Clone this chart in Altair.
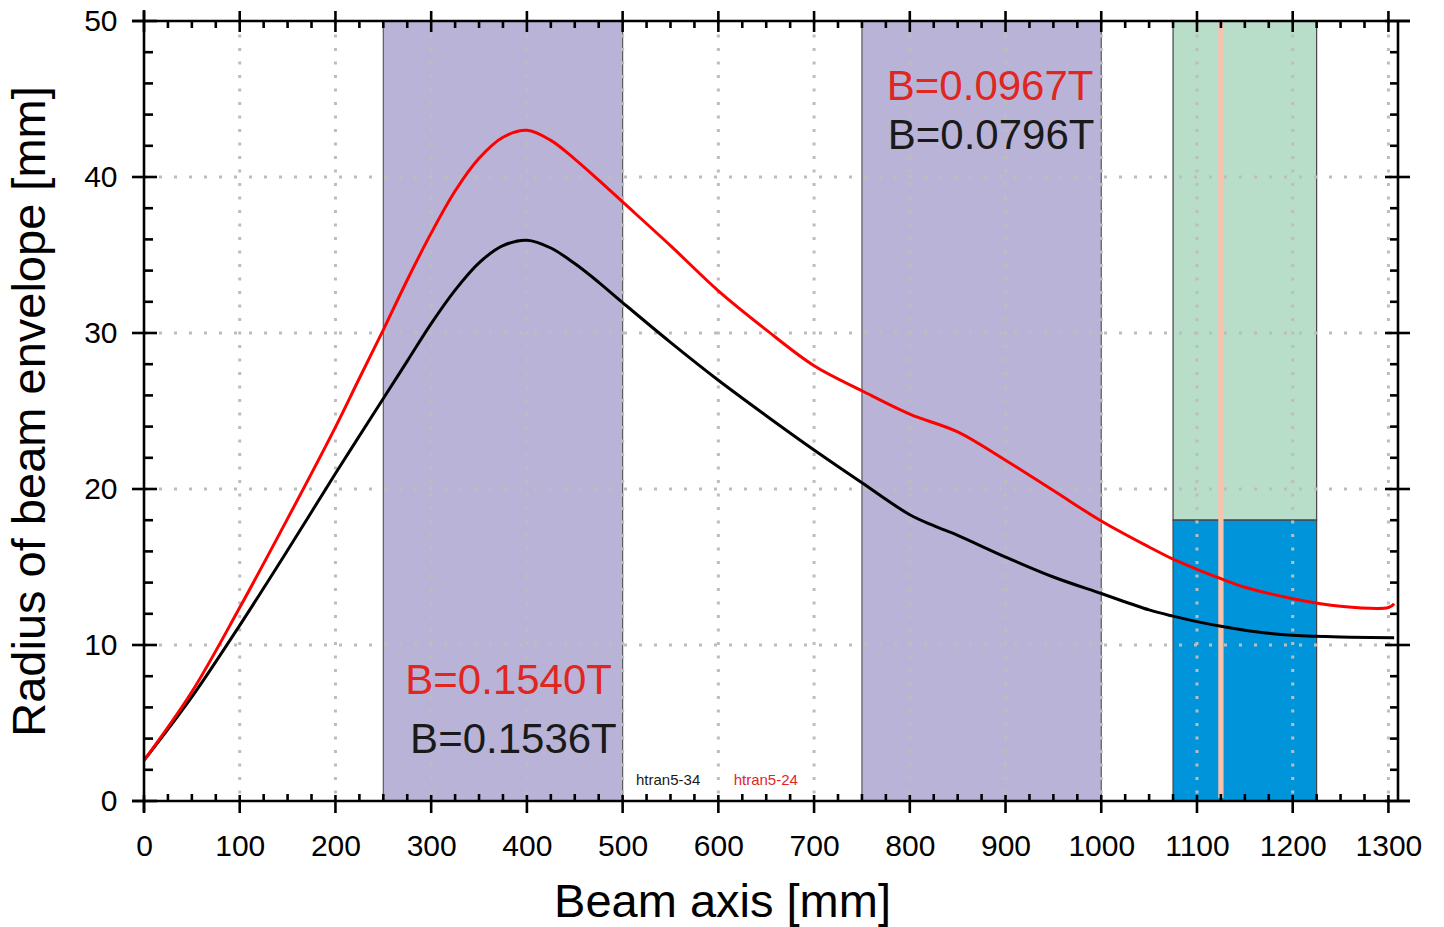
import altair as alt
import pandas as pd

# ---------------- data ----------------
x_black = [0, 50, 100, 150, 200, 250, 275, 300, 325, 350, 375, 400, 425, 450, 475, 500, 550,
           600, 650, 700, 750, 800, 825, 850, 900, 950, 1000, 1050, 1075, 1100, 1125, 1150,
           1175, 1200, 1250, 1306]
y_black = [2.6, 6.67, 11.26, 16.07, 20.99, 25.8, 28.2, 30.6, 32.75, 34.5, 35.6, 35.95, 35.45,
           34.45, 33.25, 31.95, 29.4, 26.97, 24.7, 22.5, 20.4, 18.35, 17.65, 17.03, 15.64,
           14.36, 13.3, 12.25, 11.85, 11.5, 11.2, 10.95, 10.75, 10.62, 10.51, 10.47]

x_red = [0, 50, 100, 150, 200, 225, 250, 275, 300, 325, 350, 375, 400, 425, 450, 475, 500,
         550, 600, 650, 700, 750, 800, 850, 900, 950, 1000, 1050, 1075, 1100, 1125, 1150,
         1200, 1250, 1300, 1306]
y_red = [2.6, 7.0, 12.4, 18.1, 23.97, 27.1, 30.2, 33.4, 36.4, 39.1, 41.2, 42.55, 43.0, 42.35,
         41.15, 39.8, 38.4, 35.6, 32.7, 30.2, 27.9, 26.3, 24.8, 23.66, 21.84, 19.9, 17.95,
         16.28, 15.5, 14.85, 14.25, 13.7, 12.97, 12.48, 12.4, 12.65]

magnet_start = [250, 750]
magnet_end = [500, 1000]
target_start = [1075]
target_end = [1225]
target_split = [18]
window_pos = [1125]

x_major = list(range(0, 1301, 100))
x_minor = [v for v in range(0, 1301, 25) if v % 100 != 0]
y_major = list(range(0, 51, 10))
y_minor = [v for v in range(0, 51, 2) if v % 10 != 0]

ann_big_text = ["B=0.1540T", "B=0.1536T", "B=0.0967T", "B=0.0796T"]
ann_big_x = [273, 278, 776, 777]
ann_big_y = [7.7, 3.9, 45.8, 42.6]
ann_big_red = [True, False, True, False]

ann_small_text = ["htran5-34", "htran5-24"]
ann_small_x = [514, 616]
ann_small_y = [1.35, 1.35]
ann_small_red = [False, True]

# ---------------- styling ----------------
W, H = 1254, 780
FONT = "Liberation Sans"
xs = alt.Scale(domain=[0, 1310], nice=False, zero=False)
ys = alt.Scale(domain=[0, 50], nice=False, zero=False)

xaxis = alt.Axis(title="Beam axis [mm]", values=x_major, format="d", ticks=False, domain=False,
                 grid=False, labelFont=FONT, labelFontSize=30, labelColor="black",
                 labelPadding=30, labelFlush=False, labelOverlap=False,
                 titleFont=FONT, titleFontSize=47, titleFontWeight="normal",
                 titleColor="black", titlePadding=18, titleX=578)
yaxis = alt.Axis(title="Radius of beam envelope [mm]", values=y_major, format="d", ticks=False,
                 domain=False, grid=False, labelFont=FONT, labelFontSize=30, labelColor="black",
                 labelPadding=27, labelFlush=False, labelOverlap=False,
                 titleFont=FONT, titleFontSize=47, titleFontWeight="normal",
                 titleColor="black", titlePadding=29)


def X(f):
    return alt.X(f"{f}:Q", scale=xs, axis=xaxis)


def Y(f):
    return alt.Y(f"{f}:Q", scale=ys, axis=yaxis)


layers = []

# magnet regions
mag = pd.DataFrame({"a": magnet_start, "b": magnet_end, "lo": [0] * len(magnet_start),
                    "hi": [50] * len(magnet_start)})
layers.append(alt.Chart(mag).mark_rect(color="#b9b4d7", stroke="#5a5a5a", strokeWidth=1.2)
              .encode(x=X("a"), x2="b:Q", y=Y("lo"), y2="hi:Q"))

# target regions
tg = pd.DataFrame({"a": target_start, "b": target_end, "lo": target_split, "hi": [50]})
layers.append(alt.Chart(tg).mark_rect(color="#b8dec9", stroke="#444444", strokeWidth=1.2)
              .encode(x=X("a"), x2="b:Q", y=Y("lo"), y2="hi:Q"))
tb = pd.DataFrame({"a": target_start, "b": target_end, "lo": [0], "hi": target_split})
layers.append(alt.Chart(tb).mark_rect(color="#0095db", stroke="#444444", strokeWidth=1.2)
              .encode(x=X("a"), x2="b:Q", y=Y("lo"), y2="hi:Q"))

# grid
gx = pd.DataFrame({"v": x_major[1:]})
layers.append(alt.Chart(gx).mark_rule(color="#bdbdbd", strokeWidth=3, strokeDash=[3, 10.5])
              .encode(x=X("v"), y=alt.value(0), y2=alt.value(H)))
gy = pd.DataFrame({"v": y_major[1:-1]})
layers.append(alt.Chart(gy).mark_rule(color="#bdbdbd", strokeWidth=3, strokeDash=[3, 12])
              .encode(y=Y("v"), x=alt.value(0), x2=alt.value(W)))

# window line
wd = pd.DataFrame({"v": window_pos})
layers.append(alt.Chart(wd).mark_rule(color="#f5c3ae", strokeWidth=5.3)
              .encode(x=X("v"), y=alt.value(0), y2=alt.value(H - 3)))

# curves
bl = pd.DataFrame({"x": x_black, "y": y_black})
rd = pd.DataFrame({"x": x_red, "y": y_red})
layers.append(alt.Chart(bl).mark_line(color="black", strokeWidth=3, interpolate="catmull-rom")
              .encode(x=X("x"), y=Y("y")))
layers.append(alt.Chart(rd).mark_line(color="#ff0000", strokeWidth=3, interpolate="catmull-rom")
              .encode(x=X("x"), y=Y("y")))

# annotations
for t, x, y, r in zip(ann_big_text, ann_big_x, ann_big_y, ann_big_red):
    d = pd.DataFrame({"x": [x], "y": [y], "t": [t]})
    layers.append(alt.Chart(d).mark_text(align="left", baseline="middle", font=FONT, fontSize=42,
                                         color="#e0261f" if r else "#1a1a1a")
                  .encode(x=X("x"), y=Y("y"), text="t:N"))
for t, x, y, r in zip(ann_small_text, ann_small_x, ann_small_y, ann_small_red):
    d = pd.DataFrame({"x": [x], "y": [y], "t": [t]})
    layers.append(alt.Chart(d).mark_text(align="left", baseline="middle", font=FONT, fontSize=15,
                                         color="#e0261f" if r else "#1a1a1a")
                  .encode(x=X("x"), y=Y("y"), text="t:N"))

# frame
one = pd.DataFrame({"a": [0]})
TW = 2.6
layers.append(alt.Chart(one).mark_rule(color="black", strokeWidth=TW)
              .encode(x=alt.value(0), y=alt.value(-11), y2=alt.value(H + 11)))
layers.append(alt.Chart(one).mark_rule(color="black", strokeWidth=TW)
              .encode(x=alt.value(W), y=alt.value(0), y2=alt.value(H)))
layers.append(alt.Chart(one).mark_rule(color="black", strokeWidth=TW)
              .encode(y=alt.value(H), x=alt.value(-12), x2=alt.value(W + 12)))
layers.append(alt.Chart(one).mark_rule(color="black", strokeWidth=TW)
              .encode(y=alt.value(0), x=alt.value(-12), x2=alt.value(W + 12)))

# ticks
xmj = pd.DataFrame({"v": x_major})
xmn = pd.DataFrame({"v": x_minor})
ymj = pd.DataFrame({"v": y_major})
ymn = pd.DataFrame({"v": y_minor})
layers.append(alt.Chart(xmj).mark_rule(color="black", strokeWidth=TW)
              .encode(x=X("v"), y=alt.value(H - 6), y2=alt.value(H + 12)))
layers.append(alt.Chart(xmn).mark_rule(color="black", strokeWidth=TW)
              .encode(x=X("v"), y=alt.value(H - 7), y2=alt.value(H)))
layers.append(alt.Chart(xmj).mark_rule(color="black", strokeWidth=TW)
              .encode(x=X("v"), y=alt.value(-10), y2=alt.value(11)))
layers.append(alt.Chart(xmn).mark_rule(color="black", strokeWidth=TW)
              .encode(x=X("v"), y=alt.value(0), y2=alt.value(7)))
layers.append(alt.Chart(ymj).mark_rule(color="black", strokeWidth=TW)
              .encode(y=Y("v"), x=alt.value(-12), x2=alt.value(13)))
layers.append(alt.Chart(ymn).mark_rule(color="black", strokeWidth=TW)
              .encode(y=Y("v"), x=alt.value(0), x2=alt.value(9)))
layers.append(alt.Chart(ymj).mark_rule(color="black", strokeWidth=TW)
              .encode(y=Y("v"), x=alt.value(W - 13), x2=alt.value(W + 12)))
layers.append(alt.Chart(ymn).mark_rule(color="black", strokeWidth=TW)
              .encode(y=Y("v"), x=alt.value(W - 8), x2=alt.value(W)))

chart = alt.layer(*layers).properties(
    width=W, height=H,
    autosize=alt.AutoSizeParams(type="none"),
    padding={"left": 144, "top": 21, "right": 46, "bottom": 126},
    background="white",
).configure_view(stroke=None)

chart.save("out.html", embed_options={"renderer": "svg", "actions": False})
